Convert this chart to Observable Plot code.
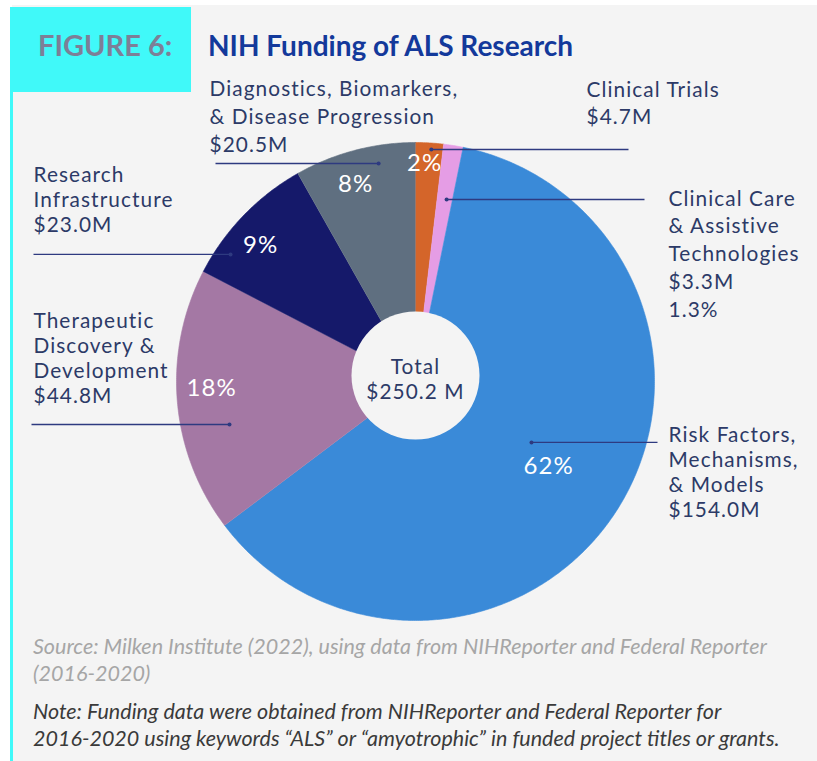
<!DOCTYPE html>
<html><head><meta charset="utf-8">
<script src="https://cdn.jsdelivr.net/npm/d3@7"></script>
<script src="https://cdn.jsdelivr.net/npm/@observablehq/plot@0.6"></script>
<style>
html,body{margin:0;padding:0;background:#fff;}
body{width:817px;height:761px;position:relative;overflow:hidden;font-family:Lato,"Noto Sans",sans-serif;}
#bg{position:absolute;left:12px;top:5px;right:0;bottom:0;background:#f4f4f4;}
#bar{position:absolute;left:10px;top:7px;width:3px;bottom:0;background:#40f9f9;}
#box{position:absolute;left:10px;top:7px;width:181px;height:85px;background:#40f9f9;}
.ttl{position:absolute;top:31px;font-size:28px;font-weight:700;line-height:28px;white-space:nowrap;}
#fig{left:38px;color:#7d7f97;font-size:29px;}
#title{left:208px;color:#13399b;}
#chart{position:absolute;left:0;top:0;}
#chart text{letter-spacing:1.08px;}
.cap{position:absolute;left:33px;font-style:italic;font-size:21.5px;line-height:27px;white-space:nowrap;}
#source{top:633px;color:#a6a6a6;}
#note{top:698px;color:#3a3a3a;}
</style></head>
<body>
<div id="bg"></div><div id="bar"></div><div id="box"></div>
<div class="ttl" id="fig">FIGURE 6:</div>
<div class="ttl" id="title">NIH Funding of ALS Research</div>
<div id="chart"></div>
<div class="cap" id="source">Source: Milken Institute (2022), using data from NIHReporter and Federal Reporter<br>(2016-2020)</div>
<div class="cap" id="note">Note: Funding data were obtained from NIHReporter and Federal Reporter for<br>2016-2020 using keywords “ALS” or “amyotrophic” in funded project titles or grants.</div>
<script>
// ---- data ----
const categories = ["Clinical Trials", "Clinical Care & Assistive Technologies", "Risk Factors, Mechanisms, & Models", "Therapeutic Discovery & Development", "Research Infrastructure", "Diagnostics, Biomarkers, & Disease Progression"];
const values = [4.7, 3.3, 154.0, 44.8, 23.0, 20.5];
const percentLabels = ["2%", "", "62%", "18%", "9%", "8%"];
const nameLines = [["Clinical Trials"], ["Clinical Care", "& Assistive", "Technologies"], ["Risk Factors,", "Mechanisms,", "& Models"], ["Therapeutic", "Discovery &", "Development"], ["Research", "Infrastructure"], ["Diagnostics, Biomarkers,", "& Disease Progression"]];
const amountLines = [["$4.7M"], ["$3.3M", "1.3%"], ["$154.0M"], ["$44.8M"], ["$23.0M"], ["$20.5M"]];
const totalLines = ["Total", "$250.2 M"];

// ---- styles / layout ----
const colors = ["#d4652a", "#e59de5", "#3a8ad8", "#a478a4", "#15196a", "#5f6f80"];
const W = 817, H = 630, cx = 415, cy = 381, R = 239, holeR = 64, holeCy = 375;
const textColor = "#2c3a67", leaderColor = "#2e3a80";
const labelFont = 20.8;
// x: left edge, yLast: baseline of the last line, step: line spacing (px)
const labelLayout = [
  {x: 586, yLast: 123, step: 27},
  {x: 668, yLast: 316, step: 27.75},
  {x: 668, yLast: 516, step: 25},
  {x: 33, yLast: 402, step: 25},
  {x: 33, yLast: 231, step: 25},
  {x: 209, yLast: 151, step: 28}
];
const pctLayout = [{a: 2.4, r: 218}, null, {a: 122.6, r: 158}, {a: 268, r: 204}, {a: 311.3, r: 206}, {a: 343.1, r: 206}];
const leaderLayout = [
  {a: 3.9, r: 232.6, x2: 628}, {a: 9.7, r: 184.6, x2: 644}, {a: 117.7, r: 131, x2: 657},
  {a: 257, r: 190.9, x2: 31}, {a: 304.5, r: 224.4, x2: 33}, {a: 350.4, r: 221.1, x2: 215}
];
const rad = d => d * Math.PI / 180;
const px = (a, r) => cx + r * Math.sin(rad(a));
const py = (a, r) => cy - r * Math.cos(rad(a));

const rows = categories.map((c, i) => ({cat: c, value: values[i]}));
const arcs = d3.pie().sort(null).value(d => d.value)(rows);
const slicePts = [];
arcs.forEach(p => {
  const n = Math.max(2, Math.ceil((p.endAngle - p.startAngle) / (Math.PI / 360)));
  slicePts.push({cat: p.data.cat, x: cx, y: cy});
  for (let k = 0; k <= n; k++) {
    const a = p.startAngle + (p.endAngle - p.startAngle) * k / n;
    slicePts.push({cat: p.data.cat, x: cx + R * Math.sin(a), y: cy - R * Math.cos(a)});
  }
});

const pctRows = percentLabels.map((t, i) => pctLayout[i] ? {text: t, x: px(pctLayout[i].a, pctLayout[i].r), y: py(pctLayout[i].a, pctLayout[i].r)} : null).filter(d => d && d.text);

const labelMarks = nameLines.map((lines, i) => {
  const L = labelLayout[i];
  const text = lines.concat(amountLines[i]).join("\n");
  return Plot.text([{text, x: L.x, y: L.yLast}], {x: "x", y: "y", text: "text", fontSize: labelFont, lineHeight: L.step / labelFont, fill: textColor, textAnchor: "start", lineAnchor: "bottom"});
});

const leaders = leaderLayout.map(L => ({x1: px(L.a, L.r), y1: py(L.a, L.r), x2: L.x2, y2: py(L.a, L.r)}));

const chart = Plot.plot({
  width: W, height: H, margin: 0,
  x: {type: "linear", domain: [0, W], range: [0, W], axis: null},
  y: {type: "linear", domain: [0, H], range: [0, H], axis: null},
  color: {domain: categories, range: colors},
  style: {background: "transparent", fontFamily: "Lato, sans-serif", overflow: "visible"},
  marks: [
    Plot.line(slicePts, {x: "x", y: "y", z: "cat", fill: "cat", stroke: "cat", strokeWidth: 0.6, curve: "linear"}),
    Plot.dot([{x: cx, y: holeCy}], {x: "x", y: "y", r: holeR, fill: "#f4f4f4", stroke: null}),
    Plot.text([{text: totalLines.join("\n"), x: cx, y: 398}], {x: "x", y: "y", text: "text", fontSize: labelFont, lineHeight: 25 / labelFont, fill: textColor, textAnchor: "middle", lineAnchor: "bottom"}),
    Plot.link(leaders, {x1: "x1", y1: "y1", x2: "x2", y2: "y2", stroke: leaderColor, strokeWidth: 1.4}),
    Plot.dot(leaders, {x: "x1", y: "y1", r: 2, fill: leaderColor, stroke: null}),
    Plot.text(pctRows, {x: "x", y: "y", text: "text", fontSize: 24, fill: "white", textAnchor: "middle", lineAnchor: "middle"}),
    ...labelMarks
  ]
});
document.getElementById("chart").appendChild(chart);
</script>
</body></html>
